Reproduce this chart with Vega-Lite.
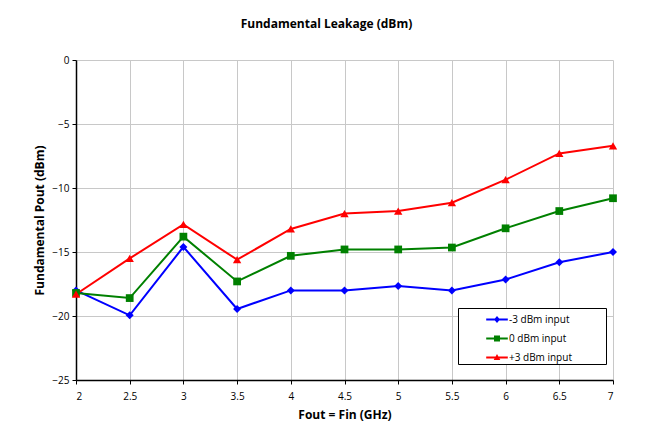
{
  "$schema": "https://vega.github.io/schema/vega-lite/v6.json",
  "autosize": {"type": "none"},
  "width": 537,
  "height": 320,
  "padding": {"left": 76, "top": 60, "right": 37, "bottom": 57},
  "background": "white",
  "title": {
    "text": "Fundamental Leakage (dBm)",
    "font": "Open Sans",
    "fontSize": 12,
    "fontWeight": "bold",
    "color": "black",
    "offset": 24,
    "dx": -18
  },
  "data": {
    "values": [
      {"f": 2, "s": "-3 dBm input", "v": -18.0},
      {"f": 2.5, "s": "-3 dBm input", "v": -19.95},
      {"f": 3, "s": "-3 dBm input", "v": -14.6},
      {"f": 3.5, "s": "-3 dBm input", "v": -19.45},
      {"f": 4, "s": "-3 dBm input", "v": -18.0},
      {"f": 4.5, "s": "-3 dBm input", "v": -18.0},
      {"f": 5, "s": "-3 dBm input", "v": -17.65},
      {"f": 5.5, "s": "-3 dBm input", "v": -18.0},
      {"f": 6, "s": "-3 dBm input", "v": -17.15},
      {"f": 6.5, "s": "-3 dBm input", "v": -15.8},
      {"f": 7, "s": "-3 dBm input", "v": -15.0},
      {"f": 2, "s": "0 dBm input", "v": -18.2},
      {"f": 2.5, "s": "0 dBm input", "v": -18.6},
      {"f": 3, "s": "0 dBm input", "v": -13.8},
      {"f": 3.5, "s": "0 dBm input", "v": -17.3},
      {"f": 4, "s": "0 dBm input", "v": -15.3},
      {"f": 4.5, "s": "0 dBm input", "v": -14.8},
      {"f": 5, "s": "0 dBm input", "v": -14.8},
      {"f": 5.5, "s": "0 dBm input", "v": -14.65},
      {"f": 6, "s": "0 dBm input", "v": -13.15},
      {"f": 6.5, "s": "0 dBm input", "v": -11.8},
      {"f": 7, "s": "0 dBm input", "v": -10.8},
      {"f": 2, "s": "+3 dBm input", "v": -18.3},
      {"f": 2.5, "s": "+3 dBm input", "v": -15.5},
      {"f": 3, "s": "+3 dBm input", "v": -12.85},
      {"f": 3.5, "s": "+3 dBm input", "v": -15.6},
      {"f": 4, "s": "+3 dBm input", "v": -13.2},
      {"f": 4.5, "s": "+3 dBm input", "v": -12.0},
      {"f": 5, "s": "+3 dBm input", "v": -11.8},
      {"f": 5.5, "s": "+3 dBm input", "v": -11.15},
      {"f": 6, "s": "+3 dBm input", "v": -9.35},
      {"f": 6.5, "s": "+3 dBm input", "v": -7.3},
      {"f": 7, "s": "+3 dBm input", "v": -6.7}
    ]
  },
  "encoding": {
    "x": {
      "field": "f",
      "type": "quantitative",
      "scale": {"domain": [2, 7], "nice": false, "zero": false},
      "axis": {
        "title": "Fout = Fin (GHz)",
        "values": [2, 2.5, 3, 3.5, 4, 4.5, 5, 5.5, 6, 6.5, 7],
        "format": "~g",
        "labelPadding": 7,
        "titlePadding": 8
      }
    },
    "y": {
      "field": "v",
      "type": "quantitative",
      "scale": {"domain": [-25, 0], "nice": false},
      "axis": {
        "title": "Fundamental Pout (dBm)",
        "values": [-25, -20, -15, -10, -5, 0],
        "labelPadding": 3,
        "titlePadding": 5
      }
    },
    "color": {
      "field": "s",
      "type": "nominal",
      "scale": {
        "domain": ["-3 dBm input", "0 dBm input", "+3 dBm input"],
        "range": ["#0000ff", "#008000", "#ff0000"]
      },
      "legend": {
        "title": null,
        "orient": "none",
        "legendX": 382,
        "legendY": 248,
        "padding": 1.5,
        "strokeColor": "black",
        "fillColor": "white",
        "symbolSize": 400,
        "symbolOffset": 27.5,
        "labelOffset": 2,
        "rowPadding": 4,
        "labelFont": "Open Sans",
        "labelFontSize": 10,
        "labelColor": "black",
        "encode": {
          "symbols": {
            "update": {
              "shape": {"signal": "datum.value === '-3 dBm input' ? 'M-1.08,-0.09H1.08V0.09H-1.08Z M0,-0.36L0.3,0L0,0.36L-0.3,0Z M10.7,0L10.7,0.001Z' : datum.value === '0 dBm input' ? 'M-1.08,-0.09H1.08V0.09H-1.08Z M-0.3,-0.3H0.3V0.3H-0.3Z M10.7,0L10.7,0.001Z' : 'M-1.08,-0.09H1.08V0.09H-1.08Z M0,-0.36L0.33,0.26L-0.33,0.26Z M10.7,0L10.7,0.001Z'"},
              "fill": {"signal": "scale('color', datum.value)"},
              "stroke": {"value": "transparent"},
              "strokeWidth": {"value": 0},
              "opacity": {"value": 1}
            }
          }
        }
      }
    }
  },
  "layer": [
    {
      "mark": {"type": "line", "strokeWidth": 2}
    },
    {
      "transform": [{"filter": "datum.s === '-3 dBm input'"}],
      "mark": {"type": "point", "filled": true, "size": 64, "opacity": 1, "shape": "diamond"}
    },
    {
      "transform": [{"filter": "datum.s === '0 dBm input'"}],
      "mark": {"type": "point", "filled": true, "size": 60, "opacity": 1, "shape": "square"}
    },
    {
      "transform": [{"filter": "datum.s === '+3 dBm input'"}],
      "mark": {"type": "point", "filled": true, "size": 70, "opacity": 1, "shape": "triangle-up"}
    }
  ],
  "config": {
    "font": "Open Sans",
    "view": {"stroke": null},
    "axis": {
      "labelFont": "Open Sans",
      "labelFontSize": 10,
      "labelColor": "black",
      "titleFont": "Open Sans",
      "titleFontSize": 12,
      "titleFontWeight": "bold",
      "titleColor": "black",
      "domainColor": "black",
      "domainWidth": 1.5,
      "tickColor": "black",
      "tickSize": 4,
      "gridColor": "#c8c8c8",
      "gridWidth": 1,
      "gridOpacity": 1
    }
  }
}
